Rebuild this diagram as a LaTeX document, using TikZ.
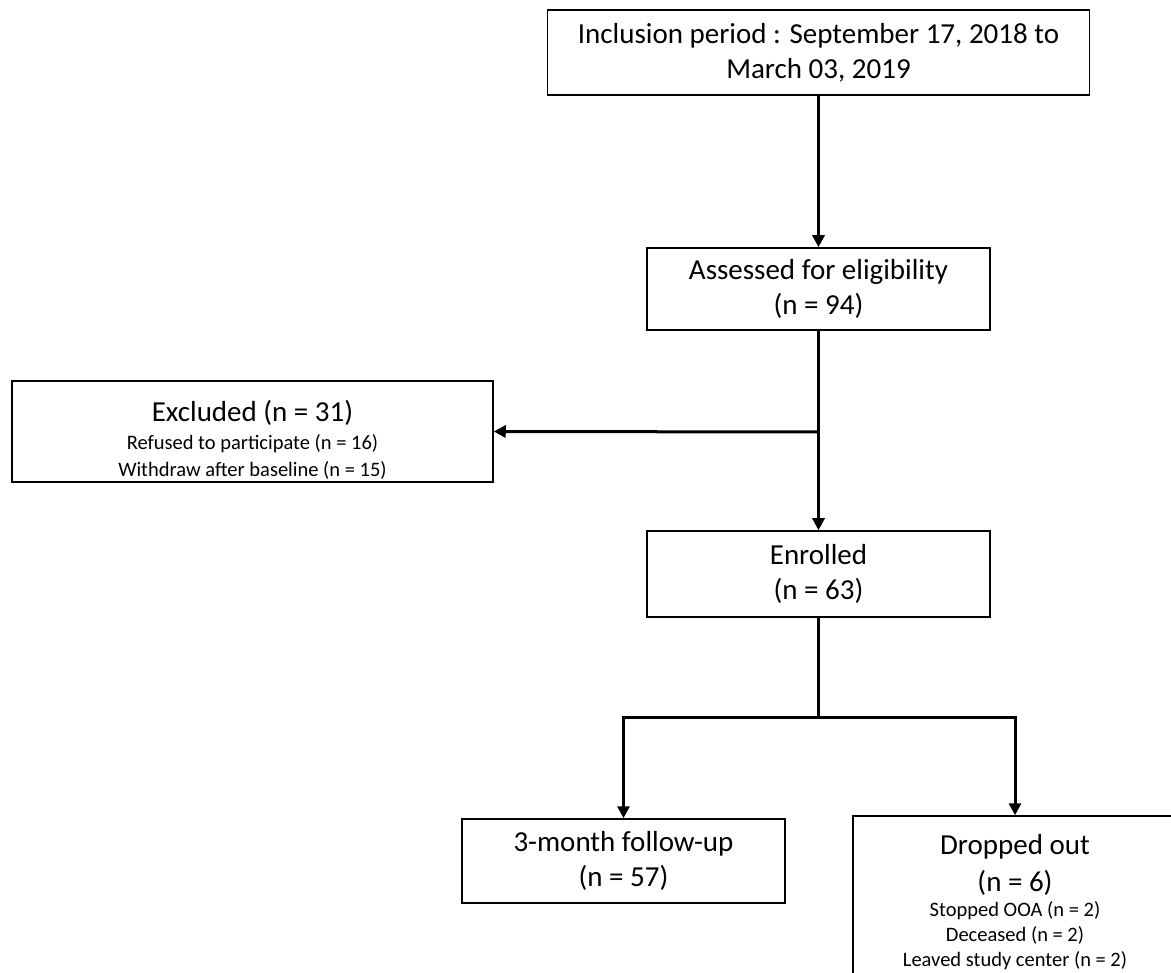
\documentclass[tikz,border=0pt]{standalone}
\usepackage{fontspec}
\setmainfont{Carlito}
\usetikzlibrary{arrows.meta}

\newcommand{\bigtxt}{\fontsize{29}{35}\selectfont}
\newcommand{\smalltxt}{\fontsize{20.5}{25}\selectfont}
% centred paragraph with the font's own word spacing
\newcommand{\cpar}{\centering\spaceskip=0pt\xspaceskip=0pt\relax}

\tikzset{
  box/.style={draw=black, line width=1.5pt, fill=white, align=center,
              inner sep=0pt, font=\bigtxt},
  listbox/.style={box, text width=300pt},
  link/.style={line width=3pt, draw=black},
  arr/.style={link, -{Triangle[width=12pt,length=12pt]}},
}

\begin{document}
\begin{tikzpicture}[x=1pt,y=-1pt]
  \useasboundingbox (0,0) rectangle (1171,973);
  \clip (0,0) rectangle (1171,973);
  \fill[white] (0,0) rectangle (1171,973);

  % boxes
  \node[box, minimum width=542pt, minimum height=85pt] (period) at (818.5,52.5)
    {Inclusion period : September 17, 2018 to\\March 03, 2019};
  \node[box, minimum width=343pt, minimum height=82pt] (assess) at (818.5,289)
    {Assessed for eligibility\\(n = 94)};
  \node[listbox, minimum width=481pt, minimum height=101pt] (excl) at (252.5,431.5)
    {\par\vspace*{2pt}{\cpar\bigtxt Excluded (n = 31)\par}\vspace{1pt}
     {\cpar\fontsize{20.5}{27}\selectfont Refused to participate (n = 16)\\
      Withdraw after baseline (n = 15)\par}};
  \node[box, minimum width=343pt, minimum height=86pt] (enrol) at (818.5,574)
    {Enrolled\\(n = 63)};
  \node[box, minimum width=323pt, minimum height=84pt] (follow) at (623.5,861)
    {3-month follow-up\\(n = 57)};
  \node[listbox, minimum width=324pt, minimum height=172pt] (drop) at (1015,902)
    {{\cpar\fontsize{29}{37}\selectfont Dropped out\\(n = 6)\par}\vspace{0pt}
     {\cpar\smalltxt Stopped OOA (n = 2)\\Deceased (n = 2)\\Leaved study center (n = 2)\par}};

  % connectors
  \coordinate (branch) at (818.5,432);
  \coordinate (split) at (818.5,717);
  \draw[arr] (period.south) -- (assess.north);
  \draw[arr] (assess.south) -- (enrol.north);
  \draw[arr] (branch) -- (excl.east);
  \draw[link] (enrol.south) -- (split);
  \draw[arr] (split) -| (follow.north);
  \draw[arr] (split) -| (drop.north);
\end{tikzpicture}
\end{document}
